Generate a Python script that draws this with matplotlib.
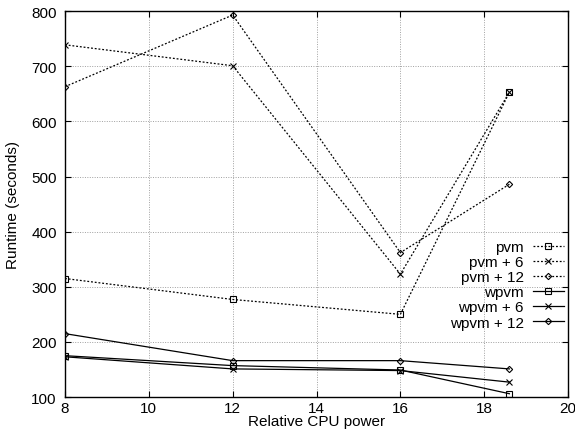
import matplotlib
matplotlib.use("Agg")
import matplotlib.pyplot as plt

plt.rcParams['font.family'] = ['Liberation Sans', 'DejaVu Sans']

cpu = [8, 12, 16, 18.6]
pvm = [315, 277, 250, 653]
pvm6 = [739, 701, 323, 653]
pvm12 = [663, 793, 362, 486]
wpvm = [175, 157, 149, 106]
wpvm6 = [173, 151, 148, 127]
wpvm12 = [215, 166, 166, 151]

labels = ["pvm", "pvm + 6", "pvm + 12", "wpvm", "wpvm + 6", "wpvm + 12"]
xticks = [8, 10, 12, 14, 16, 18, 20]
yticks = [100, 200, 300, 400, 500, 600, 700, 800]

fig = plt.figure(figsize=(5.75, 4.35), dpi=100)
ax = fig.add_axes([0.113, 0.085, 0.875, 0.887])

series = [pvm, pvm6, pvm12, wpvm, wpvm6, wpvm12]
markers = ['s', 'x', 'D', 's', 'x', 'D']
msizes = [4.5, 5, 3.2, 4.5, 5, 3.2]
styles = [(0, (1.5, 1.5))] * 3 + ['-'] * 3
for vals, m, ms, ls, lab in zip(series, markers, msizes, styles, labels):
    ax.plot(cpu, vals, color='black', linestyle=ls, linewidth=0.9,
            marker=m, markersize=ms, markerfacecolor='none',
            markeredgecolor='black', markeredgewidth=0.8, label=lab)

ax.set_xlim(8, 20)
ax.set_ylim(100, 800)
ax.set_xticks(xticks)
ax.set_yticks(yticks)
ax.grid(True, color='#a0a0a0', linestyle=(0, (1, 1.5)), linewidth=0.7)
ax.tick_params(direction='in', top=True, right=True, labelsize=11, length=4)
ax.tick_params(axis='x', pad=3)
ax.tick_params(axis='y', pad=6)
for s in ax.spines.values():
    s.set_linewidth(1.0)
ax.set_xlabel("Relative CPU power", fontsize=11, labelpad=-1)
ax.set_ylabel("Runtime (seconds)", fontsize=11, labelpad=8)

leg = ax.legend(loc='lower right', bbox_to_anchor=(1.0, 0.163), frameon=False,
                markerfirst=False, fontsize=11, handlelength=2.0,
                labelspacing=0.07, handletextpad=0.6, borderaxespad=0.0,
                borderpad=0.3)

fig.savefig("out.png", dpi=100)
